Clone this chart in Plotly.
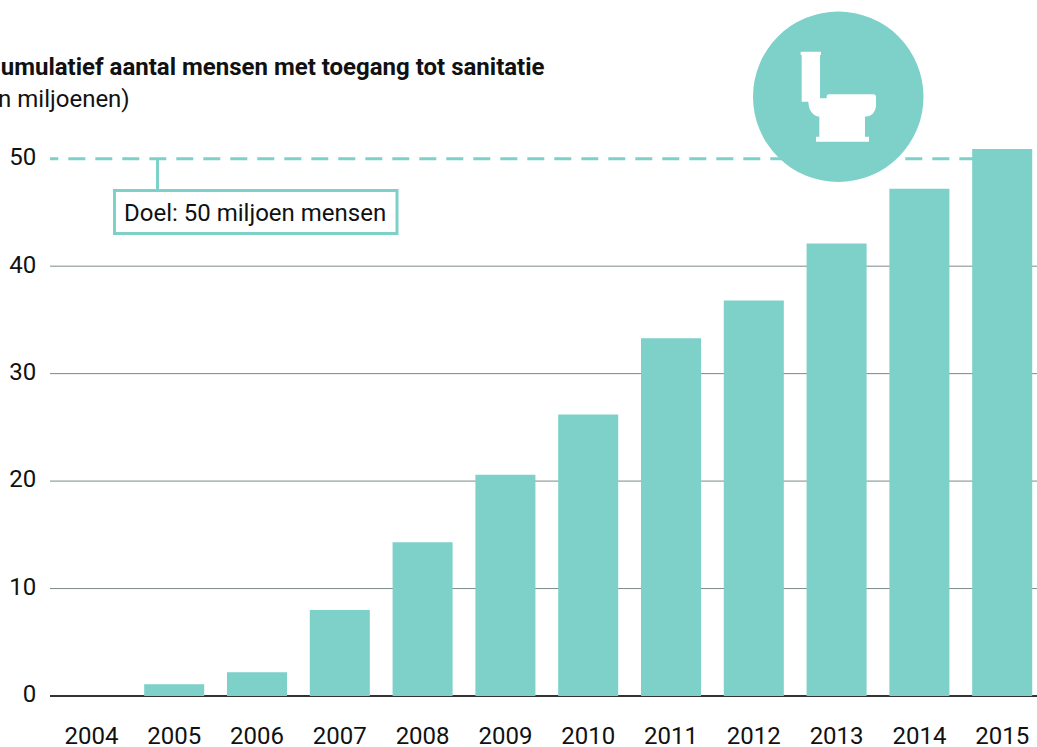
import plotly.graph_objects as go

years = ["2004", "2005", "2006", "2007", "2008", "2009", "2010", "2011", "2012", "2013", "2014", "2015"]
people_millions = [0, 1.1, 2.2, 8.0, 14.3, 20.6, 26.2, 33.3, 36.8, 42.1, 47.2, 50.9]
y_ticks = [0, 10, 20, 30, 40, 50]
goal_value = 50
title_bold = "Cumulatief aantal mensen met toegang tot sanitatie"
subtitle = "(in miljoenen)"
goal_label = "Doel: 50 miljoen mensen"

W, H = 1037, 747
TEAL = "#7dd1c9"
FONT = "Roboto"
INK = "#111111"
L, R, T, B = 50, 0, 105, 51


def px(x):
    return (x - L) / (W - L - R)


def py(y):
    return (H - B - y) / (H - T - B)


def path(cmds):
    out = []
    for c in cmds:
        out.append(c[0])
        pts = c[1:]
        for i in range(0, len(pts), 2):
            out.append(f"{px(pts[i]):.5f},{py(pts[i + 1]):.5f}")
    return " ".join(out) + " Z"


# toilet outline in page pixels
t = lambda x, y: (740 + x / 3, y / 3)
toilet = [
    ("M", *t(182, 155)), ("L", *t(243, 155)), ("L", *t(243, 165)), ("L", *t(240, 165)),
    ("L", *t(240, 295)), ("L", *t(260, 295)), ("L", *t(260, 290)), ("Q", *t(260, 283), *t(268, 283)),
    ("L", *t(400, 283)), ("Q", *t(408, 283), *t(408, 292)), ("L", *t(408, 318)),
    ("Q", *t(406, 348), *t(375, 350)), ("L", *t(375, 410)), ("L", *t(387, 410)), ("L", *t(387, 425)),
    ("L", *t(228, 425)), ("L", *t(228, 410)), ("L", *t(238, 410)), ("L", *t(238, 350)),
    ("Q", *t(207, 345), *t(205, 305)), ("L", *t(185, 305)), ("L", *t(185, 165)), ("L", *t(182, 165)),
]

fig = go.Figure(go.Bar(x=years, y=people_millions, marker=dict(color=TEAL, line_width=0), width=0.725, hoverinfo="skip"))

step = 82.8
first_center = 91.4
x_end = (W - first_center) / step

grid_shapes = [
    dict(type="line", xref="paper", yref="y", x0=0, x1=1, y0=v, y1=v,
         line=dict(color="#7b8a8a", width=1), layer="below")
    for v in y_ticks[1:-1]
]

shapes = grid_shapes + [
    dict(type="line", xref="x", yref="y", x0=-0.5 - 8.7 / step, x1=x_end + 0.5, y0=goal_value, y1=goal_value,
         line=dict(color=TEAL, width=3, dash="17px,10px"), layer="below"),
    dict(type="line", xref="paper", yref="paper", x0=px(157.5), x1=px(157.5), y0=py(159), y1=py(190),
         line=dict(color=TEAL, width=3)),
    dict(type="rect", xref="paper", yref="paper", x0=px(114.5), x1=px(397), y0=py(190.5), y1=py(233.5),
         line=dict(color=TEAL, width=3), fillcolor="white"),
    dict(type="circle", xref="paper", yref="paper", x0=px(753), x1=px(923.5), y0=py(11.5), y1=py(182),
         line_width=0, fillcolor=TEAL),
    dict(type="path", xref="paper", yref="paper", path=path(toilet), line_width=0, fillcolor="white"),
]

annotations = [
    dict(text=f"<b>{title_bold}</b>", xref="paper", yref="paper", x=px(547), y=py(67), xanchor="right", yanchor="middle",
         showarrow=False, font=dict(family=FONT, size=24, color=INK)),
    dict(text=subtitle, xref="paper", yref="paper", x=px(132), y=py(99), xanchor="right", yanchor="middle",
         showarrow=False, font=dict(family=FONT, size=24, color=INK)),
    dict(text=goal_label, xref="paper", yref="paper", x=px(255), y=py(212.5), xanchor="center", yanchor="middle",
         showarrow=False, font=dict(family=FONT, size=24, color=INK)),
]

fig.update_layout(
    width=W, height=H, margin=dict(l=L, r=R, t=T, b=B, pad=0, autoexpand=False),
    paper_bgcolor="white", plot_bgcolor="white", showlegend=False,
    shapes=shapes, annotations=annotations,
    font=dict(family=FONT, size=24, color=INK),
    xaxis=dict(type="category", range=[-0.5, x_end], showgrid=False, ticks="outside", ticklen=18, automargin=False,
               tickcolor="rgba(0,0,0,0)", showline=False, zeroline=False, tickfont=dict(size=24)),
    yaxis=dict(range=[0, 55], tickvals=y_ticks, showgrid=False, ticks="outside", automargin=False,
               ticklen=8, ticklabelshift=-2, tickcolor="rgba(0,0,0,0)", zeroline=True, zerolinecolor="#333333", zerolinewidth=2,
               showline=False, tickfont=dict(size=24)),
)

fig.write_html("out.html", config={"displayModeBar": False}, post_script="document.body.style.margin='0';")
